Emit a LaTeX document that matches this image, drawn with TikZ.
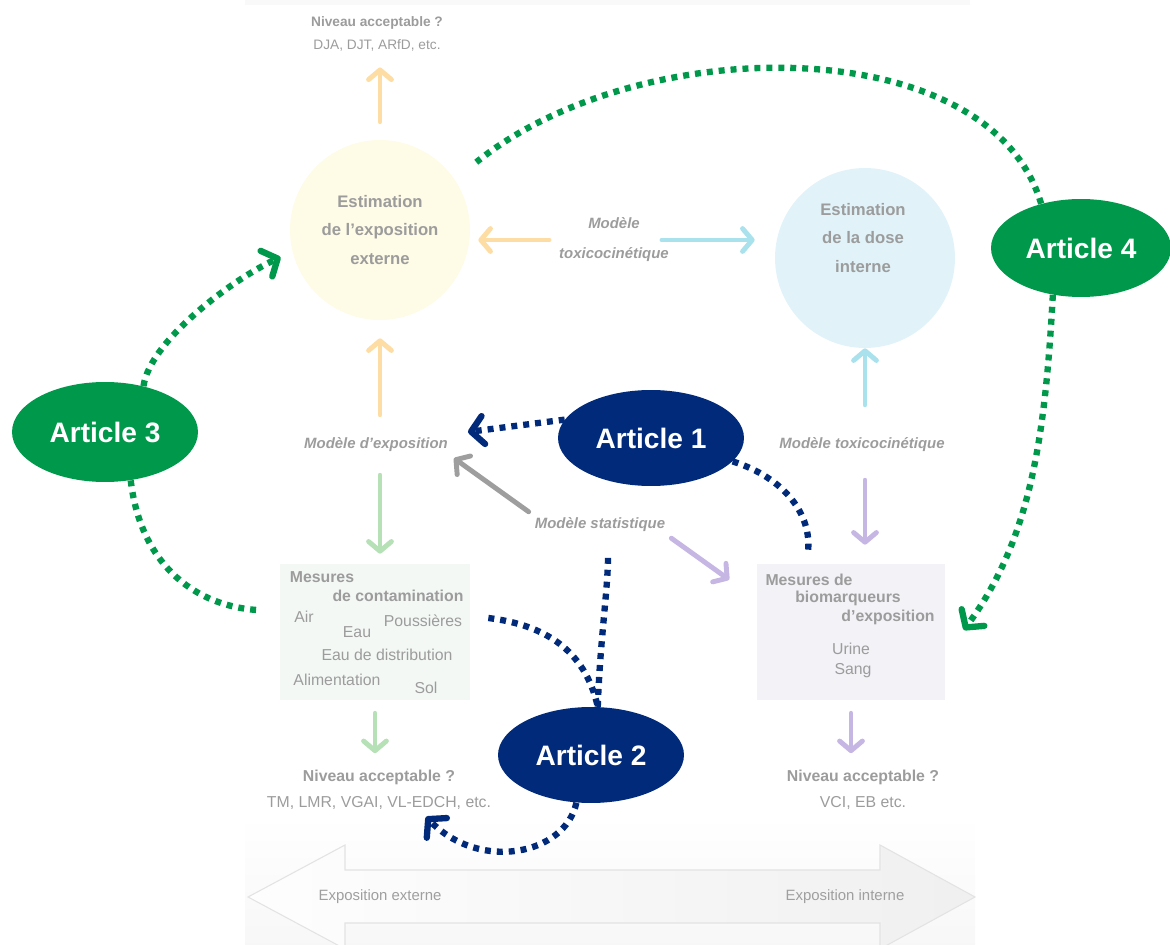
\documentclass[tikz,border=0pt]{standalone}
\usepackage{fontspec}
\setmainfont{Liberation Sans}
\usetikzlibrary{arrows.meta,shapes.geometric,calc}

\definecolor{navy}{HTML}{012B7A}
\definecolor{artgreen}{HTML}{00984A}
\definecolor{txtgray}{HTML}{9C9C9C}
\definecolor{extfill}{HTML}{FEFBE7}
\definecolor{intfill}{HTML}{E1F3F9}
\definecolor{orangearr}{HTML}{FDDDA3}
\definecolor{cyanarr}{HTML}{A9E1EC}
\definecolor{greenarr}{HTML}{B6E0B6}
\definecolor{purplearr}{HTML}{C5B6E4}
\definecolor{grayarr}{HTML}{9E9E9E}
\definecolor{contamfill}{HTML}{F3F8F5}
\definecolor{biofill}{HTML}{F2F2F7}

\tikzstyle{article} = [ellipse,text=white,font=\fontsize{16}{18}\selectfont\bfseries,minimum width=3.72cm,minimum height=1.92cm,inner sep=0pt]
\tikzstyle{estim} = [circle,minimum size=3.6cm,text=txtgray,align=center,font=\fontsize{9.5}{16}\selectfont\bfseries]
\tikzstyle{model} = [text=txtgray,align=center,font=\fontsize{8.5}{17}\selectfont\bfseries\itshape]
\tikzstyle{niveau} = [text=txtgray,align=center,font=\fontsize{7.8}{13}\selectfont]
\tikzstyle{mesbox} = [rectangle,minimum width=3.8cm,minimum height=2.72cm]
\tikzstyle{mestitle} = [text=txtgray,font=\fontsize{9}{11}\selectfont\bfseries,inner sep=0pt]
\tikzstyle{mesitem} = [text=txtgray,font=\fontsize{9}{11}\selectfont,inner sep=0pt]
\tikzstyle{flow} = [line width=2.8pt,line cap=round,-{Straight Barb[length=5.5pt,width=13pt,round]}]
\tikzstyle{dots} = [line width=3.6pt,dash pattern=on 3.4pt off 3.4pt]
\tikzstyle{dotarrow} = [dots,-{Straight Barb[length=7pt,width=16pt,round]}]

\begin{document}
\begin{tikzpicture}[x=0.02cm,y=-0.02cm]
	\useasboundingbox (0,0) rectangle (1170,945);
	\fill [gray!5] (245,0) rectangle (970,5);
	\shade [top color=white,bottom color=gray!6] (245,815) rectangle (975,945);
	\shadedraw [left color=gray!1,right color=gray!12,draw=gray!22,line width=0.6pt] (248,897) -- (345,845) -- (345,870) -- (880,870) -- (880,845) -- (975,897) -- (880,949) -- (880,923) -- (345,923) -- (345,949) -- cycle;
	\node (extlabel) [mesitem,text=gray!75,font=\fontsize{8.5}{10}\selectfont] at (380,897) {Exposition externe};
	\node (intlabel) [mesitem,text=gray!75,font=\fontsize{8.5}{10}\selectfont] at (845,897) {Exposition interne};

	\node (ext) [estim,fill=extfill] at (380,230) {Estimation\\de l'exposition\\externe};
	\node (intdose) [estim,fill=intfill] at (865,258) {};
	\node (intdosetxt) [estim,minimum size=0pt] at (863,238) {Estimation\\de la dose\\interne};
	\node (nivext) [niveau] at (377,34) {\textbf{Niveau acceptable ?}\\DJA, DJT, ARfD, etc.};

	\node (modtk) [model] at (614,240) {Modèle\\toxicocinétique};
	\node (modexp) [model] at (376,445) {Modèle d'exposition};
	\node (modtkint) [model] at (862,445) {Modèle toxicocinétique};
	\node (modstat) [model] at (600,525) {Modèle statistique};

	\node (contam) [mesbox,fill=contamfill] at (375,632) {};
	\node (contamA) [mestitle] at (322,577) {Mesures};
	\node (contamB) [mestitle] at (398,596) {de contamination};
	\node (air) [mesitem] at (304,617) {Air};
	\node (eau) [mesitem] at (357,632) {Eau};
	\node (pous) [mesitem] at (423,621) {Poussières};
	\node (distrib) [mesitem] at (387,655) {Eau de distribution};
	\node (alim) [mesitem] at (337,680) {Alimentation};
	\node (sol) [mesitem] at (426,688) {Sol};

	\node (bio) [mesbox,fill=biofill,minimum width=3.78cm] at (851,632) {};
	\node (bioA) [mestitle] at (809,580) {Mesures de};
	\node (bioB) [mestitle] at (848,598) {biomarqueurs};
	\node (bioC) [mestitle] at (888,617) {d'exposition};
	\node (urine) [mesitem] at (851,649) {Urine};
	\node (sang) [mesitem] at (853,671) {Sang};

	\node (nivcontam) [niveau,font=\fontsize{9}{14.7}\selectfont] at (379,790) {\textbf{Niveau acceptable ?}\\TM, LMR, VGAI, VL-EDCH, etc.};
	\node (nivbio) [niveau,font=\fontsize{9}{14.7}\selectfont] at (863,790) {\textbf{Niveau acceptable ?}\\VCI, EB etc.};

	\draw [flow,orangearr,shorten <=0.36cm,shorten >=0.2cm] (ext.north) -- (nivext.south -| ext.north);
	\draw [flow,orangearr,shorten <=0.08cm,shorten >=0.16cm] (modtk.west) -- (ext.east |- modtk.west);
	\draw [flow,cyanarr,shorten <=-0.26cm,shorten >=0.4cm] (modtk.east) -- (intdose.west |- modtk.east);
	\draw [flow,orangearr,shorten <=0.34cm,shorten >=0.36cm] (ext.south |- modexp.north) -- (ext.south);
	\draw [flow,greenarr,shorten <=0.34cm,shorten >=0.2cm] (ext.south |- modexp.south) -- (ext.south |- contam.north);
	\draw [flow,cyanarr,shorten <=0.54cm] (intdose.south |- modtkint.north) -- (intdose.south);
	\draw [flow,purplearr,shorten <=0.44cm,shorten >=0.38cm] (intdose.south |- modtkint.south) -- (intdose.south |- bio.north);
	\draw [flow,grayarr] (modstat.north west) -- (modexp.south east);
	\draw [flow,purplearr] (modstat.south east) -- ($(bio.north west)+(-27,16)$);
	\draw [flow,greenarr,shorten <=0.26cm,shorten >=0.22cm] (contam.south) -- (nivcontam.north -| contam.south);
	\draw [flow,purplearr,shorten <=0.26cm,shorten >=0.22cm] (bio.south) -- (nivbio.north -| bio.south);

	\node (art1) [article,fill=navy] at (651,438) {Article 1};
	\node (art2) [article,fill=navy] at (591,755) {Article 2};
	\node (art3) [article,fill=artgreen,minimum height=2cm] at (105,432) {Article 3};
	\node (art4) [article,fill=artgreen,minimum width=3.6cm,minimum height=1.96cm] at (1081,248) {Article 4};

	\draw [dotarrow,navy] (art1.168) -- ($(modexp.east)+(14,-13)$);
	\draw [dots,navy] (art1.-16) .. controls (785,478) and (812,515) .. ($(bio.north)+(-43,-12)$);
	\draw [dots,navy] (art2.82) .. controls (600,640) and (608,590) .. ($(modstat.south)+(8,18)$);
	\draw [dots,navy] ($(contam.east)+(18,-14)$) .. controls (545,625) and (585,650) .. (art2.82);
	\draw [dotarrow,navy] (art2.-107) .. controls (565,855) and (480,872) .. ($(nivcontam.south)+(47,1)$);
	\draw [dotarrow,artgreen,shorten >=0.26cm] (art3.50) .. controls (150,340) and (235,278) .. (ext.194);
	\draw [dots,artgreen] (art3.-62) .. controls (140,560) and (190,605) .. ($(contam.west)+(-23,-22)$);
	\draw [dots,artgreen,shorten >=0.55cm] (art4.132) .. controls (990,30) and (640,30) .. (ext.34);
	\draw [dotarrow,artgreen] (art4.-121) .. controls (1045,440) and (1030,540) .. ($(bio.east)+(18,-2)$);
\end{tikzpicture}
\end{document}
